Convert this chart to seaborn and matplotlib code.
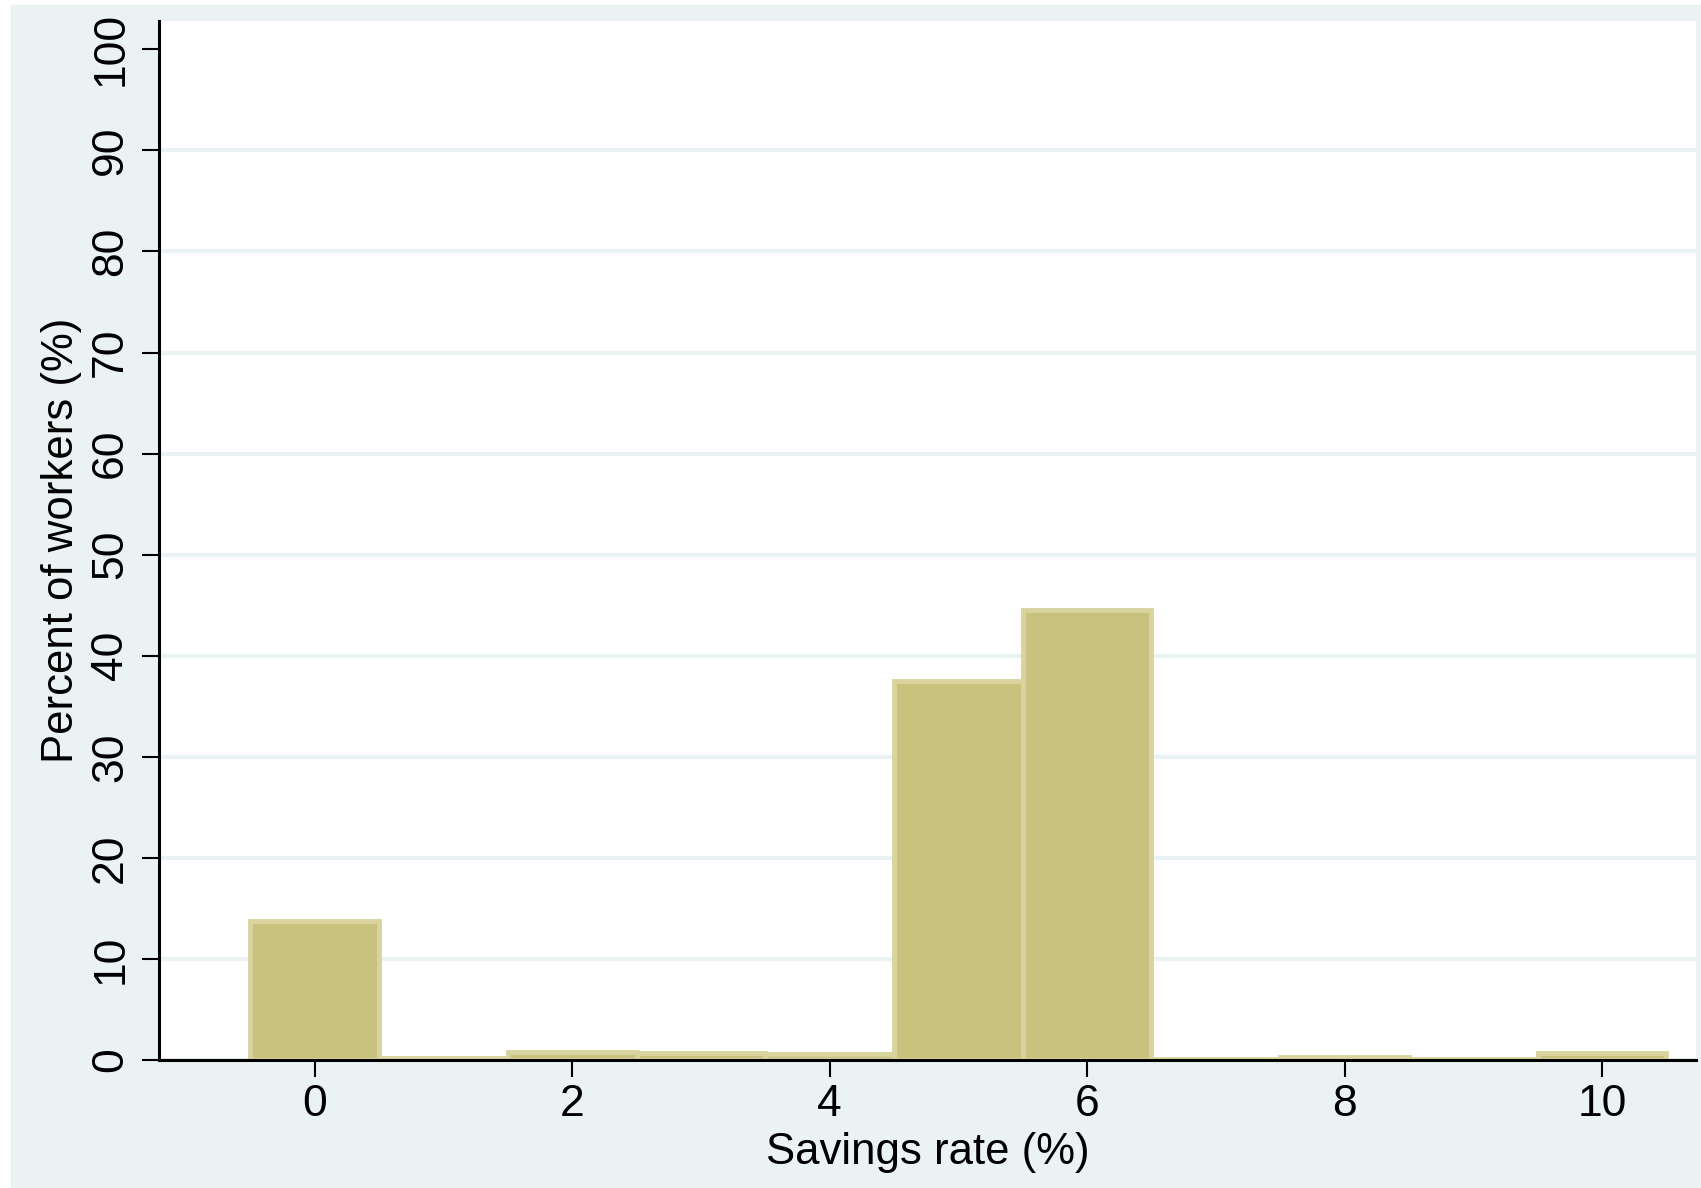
import matplotlib
matplotlib.use("Agg")
import matplotlib.pyplot as plt
import seaborn as sns
import pandas as pd
from matplotlib.patches import Rectangle

# savings rate (%) and share of workers at each rate (%)
rates = [0, 1, 2, 3, 4, 5, 6, 7, 8, 9, 10]
pct_workers = [13.8, 0.2, 0.8, 0.65, 0.6, 37.5, 44.5, 0.1, 0.25, 0.1, 0.7]
x_ticks = [0, 2, 4, 6, 8, 10]
y_ticks = [0, 10, 20, 30, 40, 50, 60, 70, 80, 90, 100]

df = pd.DataFrame({'rate': rates, 'pct': pct_workers})

sns.set_theme(style='white')
plt.rcParams['font.family'] = ['Liberation Sans', 'DejaVu Sans']

W, H = 1701, 1188
fig = plt.figure(figsize=(W / 100, H / 100), dpi=100, facecolor='white')

# stata-like outer region
bg = '#EAF2F3'
fig.patches.append(Rectangle((11 / W, 0), 1 - 11 / W, 1 - 5 / H,
                             transform=fig.transFigure, color=bg, zorder=-10))

ax = fig.add_axes([159 / W, 1 - 1060 / H, (1696 - 159) / W, (1060 - 21) / H])
ax.set_zorder(5)
ax.set_facecolor('white')

sns.histplot(data=df, x='rate', weights='pct', discrete=True, ax=ax,
             color='#C9C27F', alpha=1, edgecolor='#D9D49F', linewidth=3.5)

ax.set_xlim(-1.21, 10.73)
ax.set_ylim(0, 102.8)
ax.set_xticks(x_ticks)
ax.set_yticks(y_ticks)
ax.set_yticklabels([str(v) for v in y_ticks], rotation=90, va='center')

ax.set_axisbelow(True)
ax.grid(axis='y', color=bg, linewidth=3)
ax.grid(axis='x', visible=False)
ax.yaxis.get_gridlines()[-1].set_visible(False)

for s in ['top', 'right']:
    ax.spines[s].set_visible(False)
for s in ['left', 'bottom']:
    ax.spines[s].set_color('black')
    ax.spines[s].set_linewidth(2.2)

ax.tick_params(axis='both', direction='out', length=12, width=1.5,
               color='black', labelsize=32, labelcolor='black')
ax.tick_params(axis='x', pad=5, bottom=True)
ax.tick_params(axis='y', pad=8, left=True)

ax.set_xlabel('Savings rate (%)', fontsize=31.5, color='black', labelpad=5)
ax.set_ylabel('Percent of workers (%)', fontsize=31.5, color='black', labelpad=6)

fig.savefig('out.png', dpi=100, facecolor='white')
